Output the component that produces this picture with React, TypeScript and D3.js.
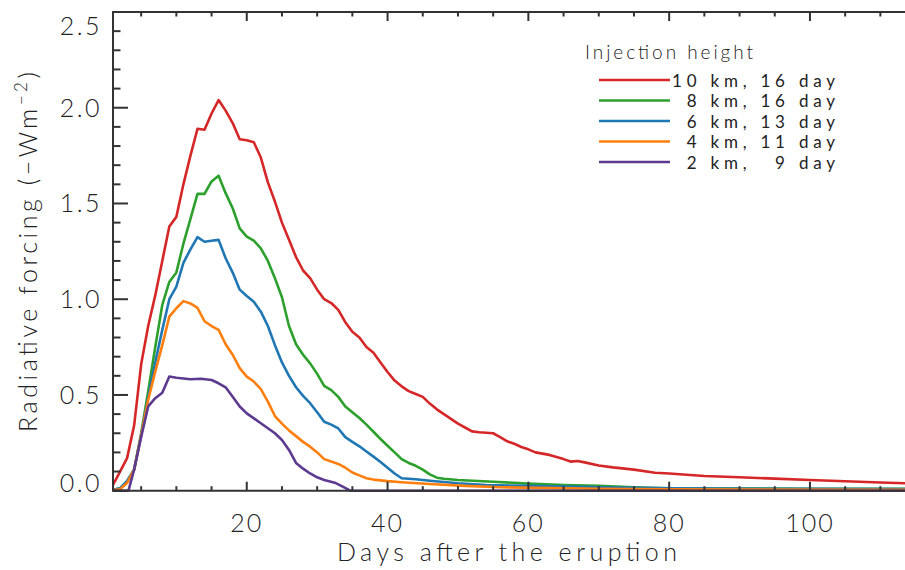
import React from 'react';
import * as d3 from 'd3';

// radiative forcing (-W m^-2) vs days after eruption
const km10 = [[1,0.03],[2,0.10],[3,0.17],[4,0.34],[5,0.66],[6,0.86],[7,1.02],[8,1.20],[9,1.38],[10,1.43],[11,1.60],[12,1.75],[13,1.89],[14,1.885],[15,1.97],[16,2.04],[17,1.985],[18,1.92],[19,1.835],[20,1.83],[21,1.82],[22,1.74],[23,1.61],[24,1.51],[25,1.40],[26,1.31],[27,1.22],[28,1.15],[29,1.11],[30,1.05],[31,1.00],[32,0.98],[33,0.944],[34,0.88],[35,0.83],[36,0.80],[37,0.75],[38,0.72],[39,0.67],[40,0.62],[41,0.575],[42,0.545],[43,0.52],[44,0.505],[45,0.49],[46,0.455],[47,0.425],[48,0.40],[49,0.375],[50,0.35],[51,0.33],[52,0.31],[53,0.305],[55,0.30],[56,0.28],[57,0.258],[58,0.245],[59,0.228],[60,0.216],[61,0.20],[63,0.187],[65,0.165],[66,0.152],[67,0.155],[68,0.148],[70,0.132],[72,0.122],[75,0.11],[78,0.094],[80,0.09],[85,0.077],[90,0.07],[95,0.063],[100,0.056],[105,0.049],[110,0.043],[114,0.038]];
const km8 = [[1,0.005],[2,0.012],[3,0.05],[4,0.11],[5,0.30],[6,0.52],[7,0.75],[8,0.97],[9,1.09],[10,1.14],[11,1.29],[12,1.42],[13,1.55],[14,1.55],[15,1.615],[16,1.645],[17,1.554],[18,1.475],[19,1.37],[20,1.327],[21,1.306],[22,1.266],[23,1.20],[24,1.11],[25,1.01],[26,0.86],[27,0.765],[28,0.71],[29,0.665],[30,0.61],[31,0.547],[32,0.525],[33,0.49],[34,0.44],[35,0.41],[36,0.38],[37,0.345],[38,0.308],[39,0.27],[40,0.235],[41,0.20],[42,0.165],[43,0.145],[44,0.13],[45,0.11],[46,0.085],[47,0.068],[48,0.062],[50,0.056],[55,0.047],[60,0.037],[65,0.03],[70,0.025],[75,0.018],[80,0.012],[90,0.011],[100,0.01],[114,0.01]];
const km6 = [[1,0.005],[2,0.012],[3,0.05],[4,0.11],[5,0.29],[6,0.49],[7,0.67],[8,0.84],[9,1.00],[10,1.066],[11,1.19],[12,1.26],[13,1.324],[14,1.30],[15,1.305],[16,1.31],[17,1.214],[18,1.139],[19,1.05],[20,1.017],[21,0.987],[22,0.935],[23,0.86],[24,0.76],[25,0.67],[26,0.60],[27,0.54],[28,0.495],[29,0.457],[30,0.41],[31,0.36],[32,0.345],[33,0.325],[34,0.28],[35,0.255],[36,0.232],[37,0.205],[38,0.178],[39,0.15],[40,0.12],[41,0.09],[42,0.065],[44,0.06],[46,0.052],[50,0.039],[54,0.03],[60,0.025],[70,0.018],[80,0.012],[114,0.008]];
const km4 = [[1,0.003],[2,0.008],[3,0.04],[4,0.11],[5,0.29],[6,0.475],[7,0.622],[8,0.76],[9,0.909],[10,0.953],[11,0.99],[12,0.978],[13,0.955],[14,0.885],[15,0.86],[16,0.84],[17,0.765],[18,0.71],[19,0.64],[20,0.596],[21,0.57],[22,0.53],[23,0.465],[24,0.39],[25,0.35],[26,0.315],[27,0.285],[28,0.255],[29,0.23],[30,0.20],[31,0.165],[32,0.152],[33,0.14],[34,0.12],[35,0.095],[36,0.08],[37,0.065],[38,0.058],[40,0.05],[42,0.044],[46,0.035],[51,0.025],[56,0.018],[70,0.01],[80,0.007],[114,0.005]];
const km2 = [[1,0],[3.2,0],[4,0.11],[5,0.28],[6,0.44],[7,0.483],[8,0.512],[9,0.596],[10,0.59],[12,0.582],[13.5,0.585],[15,0.578],[16,0.561],[17,0.54],[18,0.491],[19,0.44],[20,0.404],[22,0.352],[24,0.30],[25,0.265],[26,0.213],[27,0.145],[28,0.115],[29,0.09],[30,0.07],[31,0.056],[32.5,0.042],[33.7,0.02],[34.7,0],[114,0]];

const legendLabels = ['10 km, 16 day', '\u20078 km, 16 day', '\u20076 km, 13 day', '\u20074 km, 11 day', '\u20072 km, \u20079 day'];
const colors = ['#d62728', '#2ca02c', '#1f77b4', '#ff7f0e', '#5b3a8f'];
const allSeries = [km10, km8, km6, km4, km2];

const xMajor = [20, 40, 60, 80, 100];
const yMajor = [0, 0.5, 1.0, 1.5, 2.0, 2.5];

const W = 905, H = 570;
const left = 113, right = 905, top = 12, bottom = 490.7;
const font = 'Lato, "DejaVu Sans", sans-serif';
const axisColor = '#333';

export default function App() {
  const x = d3.scaleLinear().domain([1, 113.5]).range([left, right]);
  const y = d3.scaleLinear().domain([0, 2.5]).range([bottom, top]);
  const line = d3.line().x(d => x(d[0])).y(d => y(d[1]));

  const xMinor = d3.range(5, 114, 5).filter(v => v % 20 !== 0);
  const yMinor = d3.range(0, 2.51, 0.1).filter(v => Math.abs(v * 2 - Math.round(v * 2)) > 0.01);

  // end labels are nudged inside the axis, like the original
  const yLabelShift = (v) => (v === 0 ? -8 : v === 2.5 ? 14 : 0);

  return (
    <svg width={W} height={H} style={{ position: 'absolute', left: 0, top: 0, background: '#fff' }}
      fontFamily={font} fontWeight={300}>
      <defs>
        <clipPath id="plot"><rect x={left} y={top} width={right - left} height={bottom - top + 3} /></clipPath>
      </defs>

      <g clipPath="url(#plot)">
        {allSeries.map((s, i) => (
          <path key={i} d={line(s)} fill="none" stroke={colors[i]} strokeWidth={2.6} strokeLinejoin="round" />
        ))}
      </g>

      {/* frame */}
      <g stroke={axisColor} strokeWidth={2}>
        <line x1={left} x2={right} y1={top} y2={top} />
        <line x1={left} x2={right} y1={bottom} y2={bottom} />
        <line x1={left} x2={left} y1={top - 1} y2={bottom + 1} />
        {xMajor.map(v => (
          <g key={'xm' + v}>
            <line x1={x(v)} x2={x(v)} y1={bottom} y2={bottom - 9} />
            <line x1={x(v)} x2={x(v)} y1={top} y2={top + 9} />
          </g>
        ))}
        {xMinor.map(v => (
          <g key={'xn' + v}>
            <line x1={x(v)} x2={x(v)} y1={bottom} y2={bottom - 4.5} />
            <line x1={x(v)} x2={x(v)} y1={top} y2={top + 4.5} />
          </g>
        ))}
        {yMajor.map(v => <line key={'ym' + v} x1={left} x2={left + 15} y1={y(v)} y2={y(v)} />)}
        {yMinor.map(v => <line key={'yn' + v} x1={left} x2={left + 7.5} y1={y(v)} y2={y(v)} />)}
      </g>

      <g fill="#222" fontSize={25}>
        {yMajor.map(v => (
          <text key={'yl' + v} x={102} y={y(v) + 9 + yLabelShift(v)} textAnchor="end" letterSpacing={2.5}>
            {v.toFixed(1)}
          </text>
        ))}
        {xMajor.map(v => (
          <text key={'xl' + v} x={x(v)} y={532} textAnchor="middle" letterSpacing={2}>{v}</text>
        ))}
        <text x={337} y={561} textLength={340} lengthAdjust="spacing">Days after the eruption</text>
        <text transform="translate(37,432) rotate(-90)" textLength={360} lengthAdjust="spacing">
          Radiative forcing (−Wm<tspan dy={-10} fontSize={17}>−2</tspan><tspan dy={10}>)</tspan>
        </text>
      </g>

      {/* legend */}
      <g fill="#222" fontSize={17} fontWeight={400}>
        <text x={585} y={59} textLength={168} lengthAdjust="spacing" fontSize={19} fontWeight={300}>Injection height</text>
        {legendLabels.map((t, i) => {
          const ly = 80 + i * 20.5;
          return (
            <g key={t}>
              <line x1={599} x2={670} y1={ly} y2={ly} stroke={colors[i]} strokeWidth={2.6} />
              <text x={672} y={ly + 6.5} textLength={163} lengthAdjust="spacing" style={{ whiteSpace: 'pre' }}>{t}</text>
            </g>
          );
        })}
      </g>
    </svg>
  );
}
